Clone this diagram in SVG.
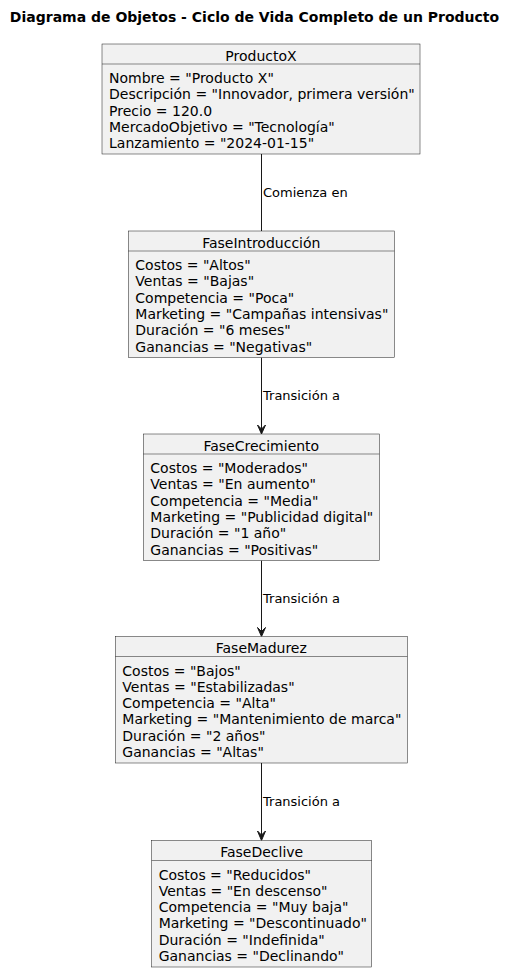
<svg xmlns="http://www.w3.org/2000/svg" width="516" height="972" viewBox="0 0 516 972">
<defs>
<style>
.box{fill:#F1F1F1;stroke:#181818;stroke-width:0.5}
.sep{stroke:#181818;stroke-width:0.5}
.name{font-family:"DejaVu Sans",sans-serif;font-size:14px;fill:#000;text-anchor:middle}
.attr{font-family:"DejaVu Sans",sans-serif;font-size:14px;fill:#000}
.lbl{font-family:"DejaVu Sans",sans-serif;font-size:13px;fill:#000}
.title{font-family:"DejaVu Sans",sans-serif;font-size:14px;font-weight:bold;fill:#000;text-anchor:middle}
.conn{stroke:#181818;stroke-width:1;fill:none}
.head{fill:#181818;stroke:#181818;stroke-width:1}
</style>
</defs>
<rect width="516" height="972" fill="#FFFFFF"/>
<text class="title" x="254.5" y="22">Diagrama de Objetos - Ciclo de Vida Completo de un Producto</text>

<g id="connectors">
<line class="conn" x1="261.5" y1="154" x2="261.5" y2="231"/>
<text class="lbl" x="263" y="197">Comienza en</text>
<line class="conn" x1="261.5" y1="357.5" x2="261.5" y2="432"/>
<polygon class="head" points="257.5,425 261.5,434 265.5,425 261.5,429"/>
<text class="lbl" x="263" y="400">Transición a</text>
<line class="conn" x1="261.5" y1="560.5" x2="261.5" y2="634"/>
<polygon class="head" points="257.5,627.5 261.5,636.5 265.5,627.5 261.5,631.5"/>
<text class="lbl" x="263" y="603">Transición a</text>
<line class="conn" x1="261.5" y1="763" x2="261.5" y2="838"/>
<polygon class="head" points="257.5,831 261.5,840.5 265.5,831 261.5,835"/>
<text class="lbl" x="263" y="806">Transición a</text>
</g>

<g id="ProductoX">
<rect class="box" x="102" y="44" width="318" height="110"/>
<line class="sep" x1="102" y1="64" x2="420" y2="64"/>
<text class="name" x="261" y="60.5">ProductoX</text>
<text class="attr" x="109" y="83">Nombre = "Producto X"</text>
<text class="attr" x="109" y="99.3">Descripción = "Innovador, primera versión"</text>
<text class="attr" x="109" y="115.6">Precio = 120.0</text>
<text class="attr" x="109" y="131.9">MercadoObjetivo = "Tecnología"</text>
<text class="attr" x="109" y="148.2">Lanzamiento = "2024-01-15"</text>
</g>

<g id="FaseIntroduccion">
<rect class="box" x="128.3" y="231" width="266" height="126.5"/>
<line class="sep" x1="128.3" y1="251" x2="394.3" y2="251"/>
<text class="name" x="261.3" y="247.5">FaseIntroducción</text>
<text class="attr" x="135.3" y="270">Costos = "Altos"</text>
<text class="attr" x="135.3" y="286.3">Ventas = "Bajas"</text>
<text class="attr" x="135.3" y="302.6">Competencia = "Poca"</text>
<text class="attr" x="135.3" y="318.9">Marketing = "Campañas intensivas"</text>
<text class="attr" x="135.3" y="335.2">Duración = "6 meses"</text>
<text class="attr" x="135.3" y="351.5">Ganancias = "Negativas"</text>
</g>

<g id="FaseCrecimiento">
<rect class="box" x="143.3" y="434" width="236" height="126.5"/>
<line class="sep" x1="143.3" y1="454" x2="379.3" y2="454"/>
<text class="name" x="261.3" y="450.5">FaseCrecimiento</text>
<text class="attr" x="150.3" y="473">Costos = "Moderados"</text>
<text class="attr" x="150.3" y="489.3">Ventas = "En aumento"</text>
<text class="attr" x="150.3" y="505.6">Competencia = "Media"</text>
<text class="attr" x="150.3" y="521.9">Marketing = "Publicidad digital"</text>
<text class="attr" x="150.3" y="538.2">Duración = "1 año"</text>
<text class="attr" x="150.3" y="554.5">Ganancias = "Positivas"</text>
</g>

<g id="FaseMadurez">
<rect class="box" x="115.3" y="636.5" width="292" height="126.5"/>
<line class="sep" x1="115.3" y1="656.5" x2="407.3" y2="656.5"/>
<text class="name" x="261.3" y="653">FaseMadurez</text>
<text class="attr" x="122.3" y="675.5">Costos = "Bajos"</text>
<text class="attr" x="122.3" y="691.8">Ventas = "Estabilizadas"</text>
<text class="attr" x="122.3" y="708.1">Competencia = "Alta"</text>
<text class="attr" x="122.3" y="724.4">Marketing = "Mantenimiento de marca"</text>
<text class="attr" x="122.3" y="740.7">Duración = "2 años"</text>
<text class="attr" x="122.3" y="757">Ganancias = "Altas"</text>
</g>

<g id="FaseDeclive">
<rect class="box" x="151.7" y="840.5" width="220" height="126.5"/>
<line class="sep" x1="151.7" y1="860.5" x2="371.7" y2="860.5"/>
<text class="name" x="261.7" y="857">FaseDeclive</text>
<text class="attr" x="158.7" y="879.5">Costos = "Reducidos"</text>
<text class="attr" x="158.7" y="895.8">Ventas = "En descenso"</text>
<text class="attr" x="158.7" y="912.1">Competencia = "Muy baja"</text>
<text class="attr" x="158.7" y="928.4">Marketing = "Descontinuado"</text>
<text class="attr" x="158.7" y="944.7">Duración = "Indefinida"</text>
<text class="attr" x="158.7" y="961">Ganancias = "Declinando"</text>
</g>
</svg>
